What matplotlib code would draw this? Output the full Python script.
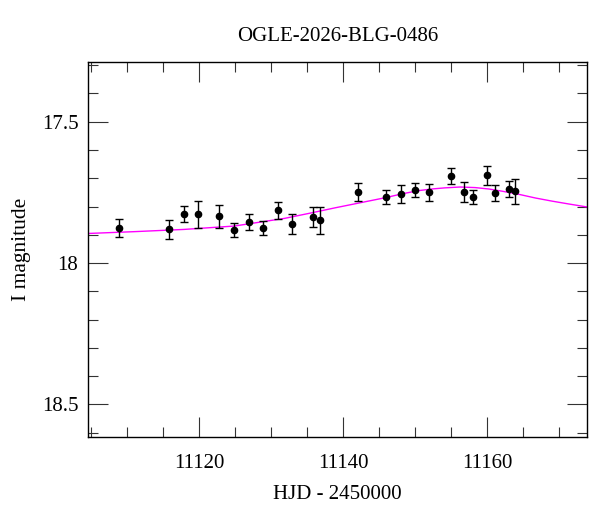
import matplotlib
matplotlib.use("Agg")
import matplotlib.pyplot as plt
from matplotlib.ticker import MultipleLocator

# Observed photometry (HJD - 2450000, I mag, error)
hjd = [11108.85, 11115.8, 11117.9, 11119.9, 11122.8, 11124.9, 11126.9, 11128.9,
       11131.0, 11132.9, 11135.8, 11136.8, 11142.0, 11146.0, 11148.0, 11149.9,
       11151.9, 11154.9, 11156.8, 11158.0, 11159.9, 11161.0, 11163.0, 11163.9]
mag = [17.875, 17.881, 17.827, 17.828, 17.835, 17.883, 17.856, 17.877,
       17.814, 17.863, 17.837, 17.849, 17.750, 17.767, 17.756, 17.742,
       17.750, 17.691, 17.750, 17.767, 17.689, 17.752, 17.738, 17.746]
err = [0.031, 0.035, 0.028, 0.047, 0.042, 0.026, 0.028, 0.025,
       0.030, 0.035, 0.037, 0.047, 0.032, 0.024, 0.032, 0.025,
       0.031, 0.028, 0.035, 0.025, 0.034, 0.028, 0.029, 0.044]

# Model curve
model_hjd = [11104.4, 11110.9, 11117.9, 11124.9, 11131.85, 11135.3, 11138.8,
             11142.3, 11145.8, 11148.2, 11150.4, 11152.3, 11154.1, 11156.2,
             11158.3, 11160.2, 11162.1, 11164.4, 11166.7, 11169.0, 11171.3, 11174.4]
model_mag = [17.8955, 17.889, 17.881, 17.869, 17.842, 17.824, 17.805,
             17.787, 17.769, 17.755, 17.744, 17.738, 17.734, 17.731,
             17.733, 17.738, 17.746, 17.757, 17.770, 17.781, 17.791, 17.804]

title = "OGLE-2026-BLG-0486"
xlabel = "HJD - 2450000"
ylabel = "I magnitude"

plt.rcParams['font.family'] = ['Liberation Serif', 'DejaVu Serif']

fig = plt.figure(figsize=(6.0, 5.12), dpi=100)
ax = fig.add_axes([0.1467, 0.1465, 0.8313, 0.7318])

ax.plot(model_hjd, model_mag, color='#ff00ff', lw=1.0, zorder=2)
ax.errorbar(hjd, mag, yerr=err, fmt='o', color='black', ms=4.5,
            elinewidth=1.0, capsize=3, capthick=1.0, zorder=3)

ax.set_xlim(11104.6, 11173.8)
ax.set_ylim(18.615, 17.29)

ax.xaxis.set_major_locator(MultipleLocator(20))
ax.xaxis.set_minor_locator(MultipleLocator(5))
ax.yaxis.set_major_locator(MultipleLocator(0.5))
ax.yaxis.set_minor_locator(MultipleLocator(0.1))
ax.yaxis.set_major_formatter(plt.FuncFormatter(lambda v, p: f"{v:g}"))

ax.tick_params(which='both', direction='in', top=True, right=True,
               width=0.8, color='#333333', labelsize=15)
ax.tick_params(which='major', length=14.5)
ax.tick_params(which='minor', length=7.5)
ax.tick_params(axis='x', which='major', pad=12)
ax.tick_params(axis='y', which='major', pad=7)
for s in ax.spines.values():
    s.set_linewidth(1.0)

ax.set_title(title, fontsize=15, pad=15)
ax.set_xlabel(xlabel, fontsize=15, labelpad=9)
ax.set_ylabel(ylabel, fontsize=15.5, labelpad=8)

fig.savefig("out.png", dpi=100)
